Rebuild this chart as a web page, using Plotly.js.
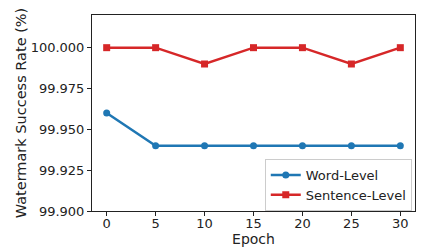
<!DOCTYPE html>
<html><head><meta charset="utf-8">
<script src="https://cdn.plot.ly/plotly-3.0.1.min.js"></script>
<style>html,body{margin:0;padding:0;background:#fff;}#c{width:422px;height:251px;}</style>
</head><body><div id="c"></div>
<script>
const epochs = [0, 5, 10, 15, 20, 25, 30];
const wordLevel = [99.96, 99.94, 99.94, 99.94, 99.94, 99.94, 99.94];
const sentenceLevel = [100.00, 100.00, 99.99, 100.00, 100.00, 99.99, 100.00];
const yTicks = [99.900, 99.925, 99.950, 99.975, 100.000];
const yTickText = ['99.900', '99.925', '99.950', '99.975', '100.000'];

const font = {family: 'DejaVu Sans', size: 13, color: '#222'};
const traces = [
  {x: epochs, y: wordLevel, name: 'Word-Level', mode: 'lines+markers',
   line: {color: '#1f77b4', width: 2.5}, marker: {symbol: 'circle', size: 7, color: '#1f77b4'}},
  {x: epochs, y: sentenceLevel, name: 'Sentence-Level', mode: 'lines+markers',
   line: {color: '#d62728', width: 2.5}, marker: {symbol: 'square', size: 7, color: '#d62728'}}
];
const layout = {
  width: 422, height: 251,
  margin: {l: 92, r: 7, t: 15, b: 40},
  paper_bgcolor: '#fff', plot_bgcolor: '#fff',
  font: font,
  showlegend: true,
  legend: {x: 0.99, y: 0.0, xanchor: 'right', yanchor: 'bottom',
    bordercolor: '#ccc', borderwidth: 1, bgcolor: 'rgba(255,255,255,0.8)',
    font: {family: 'DejaVu Sans', size: 13, color: '#222'}, tracegroupgap: 0},
  xaxis: {range: [-1.5, 31.5], tickvals: epochs, ticks: 'outside', ticklen: 4, ticklabelstandoff: -4,
    tickcolor: '#222', showline: true, linecolor: '#222', linewidth: 1, mirror: true,
    showgrid: false, zeroline: false,
    title: {text: 'Epoch', font: {family: 'DejaVu Sans', size: 14, color: '#222'}, standoff: 2}},
  yaxis: {range: [99.9, 100.02], tickvals: yTicks, ticktext: yTickText, ticks: 'outside', ticklen: 4,
    tickcolor: '#222', showline: true, linecolor: '#222', linewidth: 1, mirror: true,
    showgrid: false, zeroline: false,
    title: {text: 'Watermark Success Rate (%)', font: {family: 'DejaVu Sans', size: 14.5, color: '#222'}, standoff: 0}}
};
Plotly.newPlot('c', traces, layout, {displayModeBar: false, staticPlot: true});
</script></body></html>
